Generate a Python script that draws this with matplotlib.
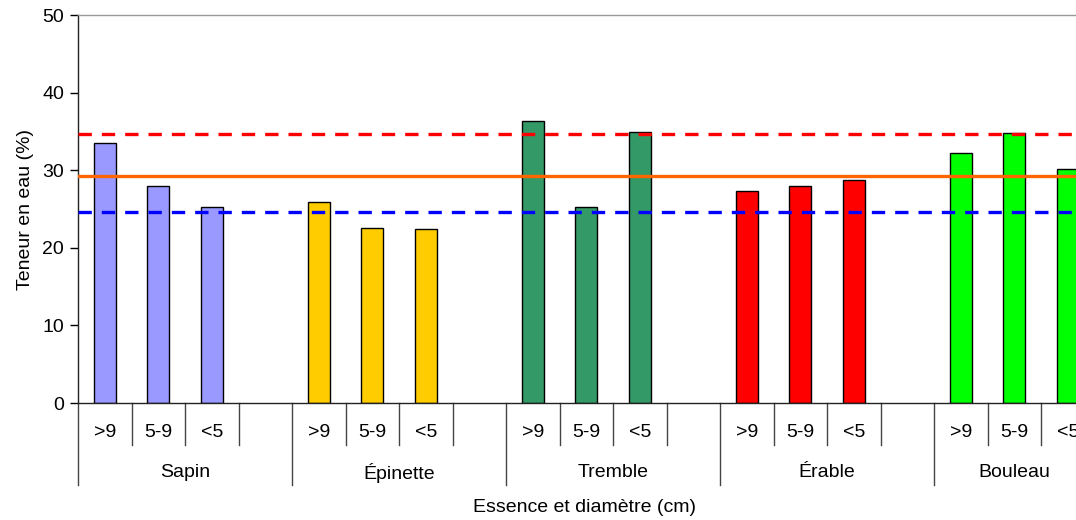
import matplotlib
matplotlib.use("Agg")
import matplotlib.pyplot as plt
import matplotlib.transforms as mtransforms

plt.rcParams['font.family'] = ['Liberation Sans', 'DejaVu Sans']

species = ["Sapin", "Épinette", "Tremble", "Érable", "Bouleau"]
diameters = [">9", "5-9", "<5"]
colors = ["#9999FF", "#FFCC00", "#339966", "#FF0000", "#00FF00"]

sapin = [33.5, 28.0, 25.3]
epinette = [25.9, 22.6, 22.4]
tremble = [36.4, 25.3, 34.9]
erable = [27.3, 28.0, 28.7]
bouleau = [32.2, 34.75, 30.2]
values = [sapin, epinette, tremble, erable, bouleau]

ref_high = 34.7   # red dashed
ref_mean = 29.25  # orange solid
ref_low = 24.6    # blue dashed

FS = 14

W, H = 1076, 520
slot_px = 53.5
slots_per_group = len(diameters) + 1          # three diameters + a blank spacer
n_slots = slots_per_group * len(species) - 1  # no spacer after the last group

fig = plt.figure(figsize=(W / 100, H / 100), dpi=100)
ax = fig.add_axes([78 / W, (H - 403) / H, n_slots * slot_px / W, 388 / H])

for g, (vals, col) in enumerate(zip(values, colors)):
    xs = [g * slots_per_group + i + 0.5 for i in range(len(vals))]
    ax.bar(xs, vals, width=0.42, color=col, edgecolor="black", linewidth=1.0, zorder=2)

ax.axhline(ref_high, color="#FF0000", lw=2.4, ls=(0, (4, 3)), zorder=3)
ax.axhline(ref_mean, color="#FF6600", lw=2.4, zorder=3)
ax.axhline(ref_low, color="#0000FF", lw=2.4, ls=(0, (4, 3)), zorder=3)

ax.set_xlim(0, n_slots)
ax.set_ylim(0, 50)
ax.set_yticks(range(0, 51, 10))
ax.tick_params(axis="y", direction="out", length=6, width=1, labelsize=FS, pad=4)
ax.set_xticks([])

for s in ["left", "bottom"]:
    ax.spines[s].set_color("#222222")
    ax.spines[s].set_linewidth(1.0)
ax.spines["top"].set_color("#999999")
ax.spines["top"].set_linewidth(1.0)
ax.spines["right"].set_visible(False)

ax.set_ylabel("Teneur en eau (%)", fontsize=FS, labelpad=6)

# two-level category axis
trans = mtransforms.blended_transform_factory(ax.transData, ax.transAxes)
short_y, long_y = -0.108, -0.211
for k in range(n_slots + 1):
    is_group_edge = k % slots_per_group == 0 or k == n_slots
    y_end = long_y if is_group_edge else short_y
    ax.plot([k, k], [0, y_end], color="#444444", lw=1.0, transform=trans, clip_on=False)

for g, name in enumerate(species):
    start = g * slots_per_group
    end = min(start + slots_per_group, n_slots)
    for i, d in enumerate(diameters):
        ax.text(start + i + 0.5, -0.077, d, transform=trans,
                ha="center", va="center", fontsize=FS)
    ax.text((start + end) / 2, -0.18, name, transform=trans,
            ha="center", va="center", fontsize=FS)

fig.text(585 / W, 1 - 508 / H, "Essence et diamètre (cm)", ha="center", va="center",
         fontsize=FS)

fig.savefig("out.png", dpi=100)
